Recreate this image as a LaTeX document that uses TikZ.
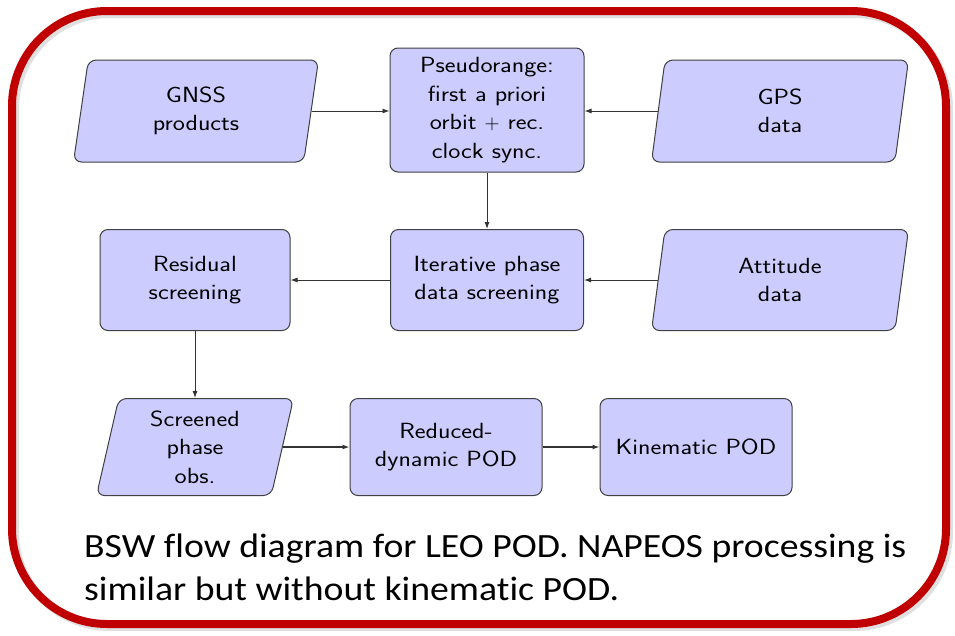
\documentclass[tikz,border=0pt]{standalone}
\usepackage{fontspec}
\newfontfamily\capfont[Ligatures=NoCommon,FakeStretch=1.11]{Carlito}
\newfontfamily\nodefont[FakeStretch=1.17]{Latin Modern Sans}
\usetikzlibrary{shapes.geometric,arrows.meta}
\definecolor{bred}{RGB}{192,0,0}
\definecolor{nodefill}{RGB}{204,204,255}
\begin{document}
\begin{tikzpicture}[x=1pt,y=-1pt,
  box/.style={draw=black!75, line width=1pt, fill=nodefill, rounded corners=8pt,
    align=center, font=\nodefont\fontsize{22}{28.5}\selectfont, inner sep=0pt},
  para/.style={box, trapezium, trapezium left angle=73, trapezium right angle=107,
    trapezium stretches body, minimum height=102pt},
  arr/.style={-{Latex[length=7pt,width=5pt]}, line width=0.9pt, draw=black!80},
  captext/.style={anchor=base west, inner sep=0pt, font=\capfont\fontsize{34}{45}\selectfont}]
\useasboundingbox (0,0) rectangle (955,635);
\draw[black!12, line width=8pt, rounded corners=95pt] (15,14) rectangle (949,627);
\draw[bred, line width=8pt, rounded corners=95pt] (12,11) rectangle (946,624);

\node[para, minimum width=245pt] (gnss) at (196,111) {GNSS\\products};
\node[box, minimum width=194pt, minimum height=124pt] (pseudo) at (487,110)
  {Pseudorange:\\first a priori\\orbit $+$ rec.\\clock sync.};
\node[para, minimum width=257pt] (gps) at (780,111) {GPS\\data};
\node[box, minimum width=190pt, minimum height=101pt] (resid) at (195,280) {Residual\\screening};
\node[box, minimum width=193pt, minimum height=101pt] (iter) at (487,280) {Iterative phase\\data screening};
\node[para, minimum width=257pt, minimum height=101pt] (att) at (780,280) {Attitude\\data};
\node[para, minimum width=197pt, minimum height=97pt] (scr) at (195,447) {Screened\\phase\\obs.};
\node[box, minimum width=192pt, minimum height=97pt] (red) at (446,447) {Reduced-\\dynamic POD};
\node[box, minimum width=192pt, minimum height=97pt] (kin) at (696,447) {Kinematic POD};

\draw[arr] (gnss.east) -- (gnss.east -| pseudo.west);
\draw[arr] (gps.west) -- (gps.west -| pseudo.east);
\draw[arr] (pseudo) -- (iter);
\draw[arr] (iter) -- (resid);
\draw[arr] (att.west) -- (att.west -| iter.east);
\draw[arr] (resid) -- (scr);
\draw[arr, line width=1.3pt] (scr.east) -- (scr.east -| red.west);
\draw[arr, line width=1.3pt] (red) -- (kin);

\node[captext] (cap1) at (84,557) {BSW flow diagram for LEO POD. NAPEOS processing is};
\node[captext] (cap2) at (84,600) {similar but without kinematic POD.};
\end{tikzpicture}
\end{document}
